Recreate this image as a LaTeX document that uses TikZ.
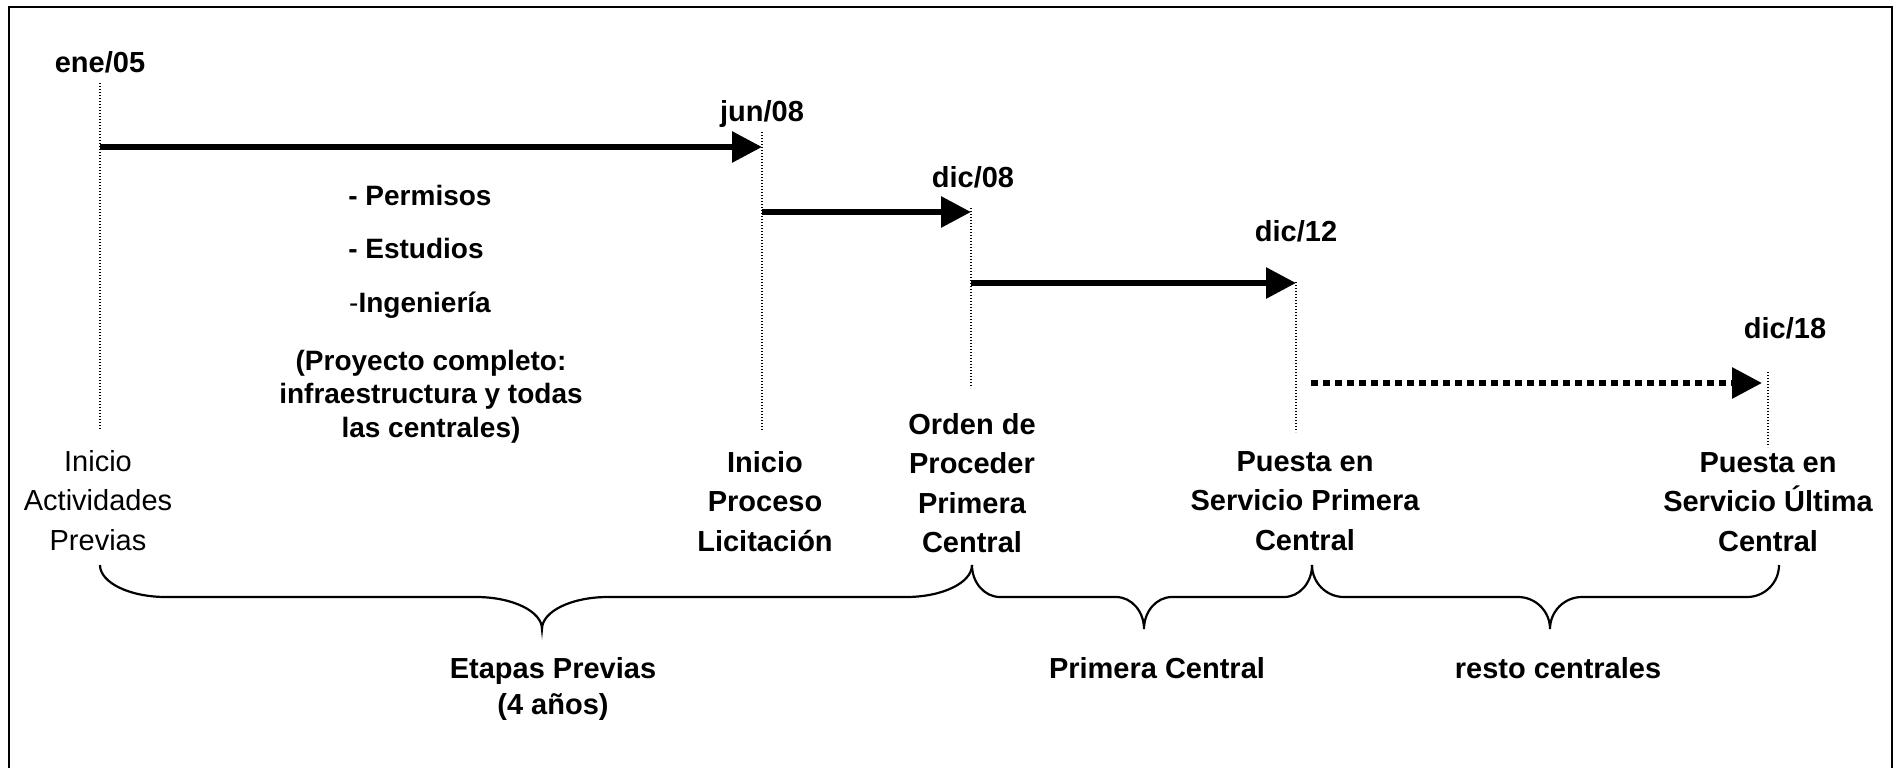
\documentclass[tikz,border=0pt]{standalone}
\usepackage{fontspec}
\setmainfont{Liberation Sans}
\usetikzlibrary{arrows.meta}
\newcommand\mybrace[4]{% x0, xtip, x1, curve width
  \draw[bracestyle] (#1,565) .. controls (#1,582.7) and ({#1+0.448*#4},597) .. ({#1+#4},597)
    -- ({#2-#4},597) .. controls ({#2-0.448*#4},597) and (#2,611.3) .. (#2,629)
    .. controls (#2,611.3) and ({#2+0.448*#4},597) .. ({#2+#4},597)
    -- ({#3-#4},597) .. controls ({#3-0.448*#4},597) and (#3,582.7) .. (#3,565);}
\begin{document}
\begin{tikzpicture}[x=1pt,y=-1pt,
  lbl/.style={font=\fontsize{29}{39.5}\selectfont\bfseries, inner sep=0pt, align=center},
  lblr/.style={font=\fontsize{29}{39.5}\selectfont, inner sep=0pt, align=center},
  blk/.style={font=\fontsize{28}{33.5}\selectfont\bfseries, inner sep=0pt, align=center},
  tick/.style={line width=1.2pt, dash pattern=on 1.2pt off 1.8pt},
  thickarrow/.style={line width=6pt, -{Triangle[length=30pt,width=30pt]}},
  dotarrow/.style={line width=6pt, dash pattern=on 7pt off 5pt, -{Triangle[length=30pt,width=30pt]}},
  bracestyle/.style={line width=2.2pt},
  frame/.style={line width=2.5pt}]
\useasboundingbox (0,0) rectangle (1895,768);
\draw[frame] (9,768) -- (9,7) -- (1892,7) -- (1892,768);

% tick coordinates
\coordinate (t1a) at (100,83);   \coordinate (t1b) at (100,430);
\coordinate (t2a) at (762,132);  \coordinate (t2b) at (762,430);
\coordinate (t3a) at (971,208);  \coordinate (t3b) at (971,388);
\coordinate (t4a) at (1296,282); \coordinate (t4b) at (1296,432);
\coordinate (t5a) at (1768,372); \coordinate (t5b) at (1768,447);
\draw[tick] (t1a) -- (t1b);
\draw[tick] (t2a) -- (t2b);
\draw[tick] (t3a) -- (t3b);
\draw[tick] (t4a) -- (t4b);
\draw[tick] (t5a) -- (t5b);

% arrow end points
\coordinate (a1s) at (100,147);  \coordinate (a1e) at (762,147);
\coordinate (a2s) at (762,212);  \coordinate (a2e) at (971,212);
\coordinate (a3s) at (971,283);  \coordinate (a3e) at (1296,283);
\coordinate (a4s) at (1311,383); \coordinate (a4e) at (1762,383);
\draw[thickarrow] (a1s) -- (a1e);
\draw[thickarrow] (a2s) -- (a2e);
\draw[thickarrow] (a3s) -- (a3e);
\draw[dotarrow] (a4s) -- (a4e);

% dates
\node[lbl, anchor=base] (d1) at (100,72) {ene/05};
\node[lbl, anchor=base] (d2) at (762,121) {jun/08};
\node[lbl, anchor=base] (d3) at (973,187) {dic/08};
\node[lbl, anchor=base] (d4) at (1296,241) {dic/12};
\node[lbl, anchor=base] (d5) at (1785,338) {dic/18};

% activity text
\node[blk, anchor=base] (perm) at (420,205) {- Permisos};
\node[blk, anchor=base] (est) at (416,258) {- Estudios};
\node[blk, anchor=base] (ing) at (420,312) {{\mdseries -}Ingeniería};
\node[blk, anchor=north] (proy) at (431,350) {(Proyecto completo:\\infraestructura y todas\\las centrales)};

% milestones
\node[lblr, anchor=north] (m1) at (98,450) {Inicio\\Actividades\\Previas};
\node[lbl, anchor=north] (m2) at (765,451) {Inicio\\Proceso\\Licitación};
\node[lbl, anchor=north] (m3) at (972,413) {Orden de\\Proceder\\Primera\\Central};
\node[lbl, anchor=north] (m4) at (1305,451) {Puesta en\\Servicio Primera\\Central};
\node[lbl, anchor=north] (m5) at (1768,452) {Puesta en\\Servicio Última\\Central};

% braces
\mybrace{100}{542}{972}{66}
\mybrace{972}{1144}{1312}{28}
\mybrace{1312}{1550}{1779}{32}

% phase labels
\node[lbl, anchor=north, font=\fontsize{29}{36}\selectfont\bfseries] (p1) at (553,657) {Etapas Previas\\(4 años)};
\node[lbl, anchor=base] (p2) at (1157,678) {Primera Central};
\node[lbl, anchor=base] (p3) at (1558,678) {resto centrales};
\end{tikzpicture}
\end{document}
